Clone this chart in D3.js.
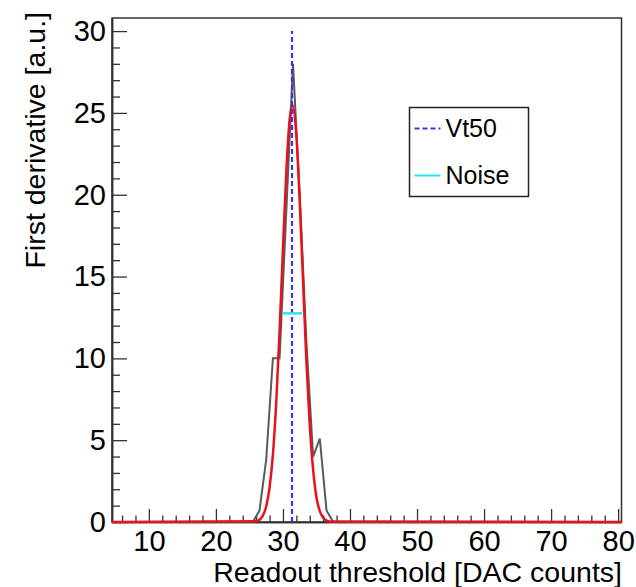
<!DOCTYPE html>
<html>
<head>
<meta charset="utf-8">
<script src="https://cdn.jsdelivr.net/npm/d3@7"></script>
<style>
  body { margin: 0; background: #fff; }
  svg { display: block; font-family: "Liberation Sans", Arial, sans-serif; }
</style>
</head>
<body>
<svg id="chart" width="636" height="587"></svg>
<script>
// derivative of the threshold scan (grey line)
var derivX = [4.5, 25.5, 26.5, 27.5, 28.5, 29.5, 30.5, 31.5, 32.5, 33.5, 34.5, 35.5, 36.5, 37.5, 80.5];
var derivY = [0, 0, 0.7, 3.8, 10, 10, 19, 28, 20, 11, 4, 5.1, 0.7, 0, 0];

// gaussian fit (red line)
var fitX = [4.5, 26, 26.5, 27, 27.5, 28, 28.5, 29, 29.5, 30, 30.5, 31, 31.4, 32, 32.5, 33, 33.5, 34, 34.5, 35, 35.5, 36, 36.5, 37, 80.5];
var fitY = [0, 0.05, 0.14, 0.39, 0.95, 2.1, 4.1, 7.3, 11.7, 16.7, 21.4, 24.6, 25.5, 23.6, 19.6, 14.7, 9.8, 5.9, 3.2, 1.5, 0.67, 0.26, 0.09, 0.03, 0];

var vt50 = 31.35;
var noise = 1.5;
var noiseLevel = 12.75;
var vt50Top = 30;

var xMajor = [10, 20, 30, 40, 50, 60, 70, 80];
var xMinor = [6, 8, 12, 14, 16, 18, 22, 24, 26, 28, 32, 34, 36, 38, 42, 44, 46, 48, 52, 54, 56, 58, 62, 64, 66, 68, 72, 74, 76, 78];
var yMajor = [0, 5, 10, 15, 20, 25, 30];
var yMinor = [1, 2, 3, 4, 6, 7, 8, 9, 11, 12, 13, 14, 16, 17, 18, 19, 21, 22, 23, 24, 26, 27, 28, 29];

var legendItems = [
    { label: "Vt50", color: "#3535f0", dash: "5,3" },
    { label: "Noise", color: "#2fe3ee", dash: null }
];

var svg = d3.select("#chart");
var frameL = 112, frameR = 621.5, frameT = 18, frameB = 522;

var x = d3.scaleLinear().domain([4.5, 80.5]).range([frameL, frameR]);
var y = d3.scaleLinear().domain([0, 30.8]).range([frameB, frameT]);

// frame
svg.append("rect")
    .attr("x", frameL).attr("y", frameT)
    .attr("width", frameR - frameL).attr("height", frameB - frameT)
    .attr("fill", "none").attr("stroke", "#333").attr("stroke-width", 1.5);

// x axis, ticks pointing inward
var gx = svg.append("g").attr("transform", "translate(0," + frameB + ")");
gx.call(d3.axisBottom(x).tickValues(xMajor).tickSize(-13).tickSizeOuter(0).tickPadding(8));
var gxm = svg.append("g").attr("transform", "translate(0," + frameB + ")");
gxm.call(d3.axisBottom(x).tickValues(xMinor).tickSize(-6.5).tickSizeOuter(0).tickFormat(""));

// y axis
var gy = svg.append("g").attr("transform", "translate(" + frameL + ",0)");
gy.call(d3.axisLeft(y).tickValues(yMajor).tickSize(-15).tickSizeOuter(0).tickPadding(6));
var gym = svg.append("g").attr("transform", "translate(" + frameL + ",0)");
gym.call(d3.axisLeft(y).tickValues(yMinor).tickSize(-8).tickSizeOuter(0).tickFormat(""));

svg.selectAll(".domain").attr("stroke", "#333").attr("stroke-width", 1.5);
svg.selectAll(".tick line").attr("stroke", "#333").attr("stroke-width", 1.3);
svg.selectAll(".tick text")
    .attr("font-size", 29)
    .attr("fill", "#000")
    .attr("font-family", "'Liberation Sans', Arial, sans-serif");

// axis titles
svg.append("text")
    .attr("x", 622).attr("y", 582)
    .attr("text-anchor", "end")
    .attr("font-size", 28.5)
    .text("Readout threshold [DAC counts]");

svg.append("text")
    .attr("transform", "translate(45,12) rotate(-90)")
    .attr("text-anchor", "end")
    .attr("font-size", 28.5)
    .text("First derivative [a.u.]");

// grey derivative line
var derivLine = d3.line()
    .x(function(d){ return x(d[0]); })
    .y(function(d){ return y(d[1]); });

svg.append("path")
    .datum(d3.zip(derivX, derivY))
    .attr("d", derivLine)
    .attr("fill", "none")
    .attr("stroke", "#5a5a5a")
    .attr("stroke-width", 2);

// red fit
var fitLine = d3.line()
    .curve(d3.curveMonotoneX)
    .x(function(d){ return x(d[0]); })
    .y(function(d){ return y(d[1]); });

svg.append("path")
    .datum(d3.zip(fitX, fitY))
    .attr("d", fitLine)
    .attr("fill", "none")
    .attr("stroke", "#e8121c")
    .attr("stroke-width", 2.5);

// vt50 marker
svg.append("line")
    .attr("x1", x(vt50)).attr("x2", x(vt50))
    .attr("y1", y(0)).attr("y2", y(vt50Top))
    .attr("stroke", legendItems[0].color)
    .attr("stroke-width", 2.2)
    .attr("stroke-dasharray", legendItems[0].dash);

// noise bar
svg.append("line")
    .attr("x1", x(vt50 - noise)).attr("x2", x(vt50 + noise))
    .attr("y1", y(noiseLevel)).attr("y2", y(noiseLevel))
    .attr("stroke", legendItems[1].color)
    .attr("stroke-width", 2.5);

// legend
var legend = svg.append("g").attr("transform", "translate(409.5,107.5)");
legend.append("rect")
    .attr("width", 119).attr("height", 89)
    .attr("fill", "#fff").attr("stroke", "#222").attr("stroke-width", 1.5);

legendItems.forEach(function(item, i){
    var ly = 21 + i * 47;
    legend.append("line")
        .attr("x1", 5).attr("x2", 31)
        .attr("y1", ly).attr("y2", ly)
        .attr("stroke", item.color)
        .attr("stroke-width", 2)
        .attr("stroke-dasharray", item.dash);
    legend.append("text")
        .attr("x", 36).attr("y", ly)
        .attr("dy", "0.35em")
        .attr("font-size", 25)
        .text(item.label);
});
</script>
</body>
</html>
